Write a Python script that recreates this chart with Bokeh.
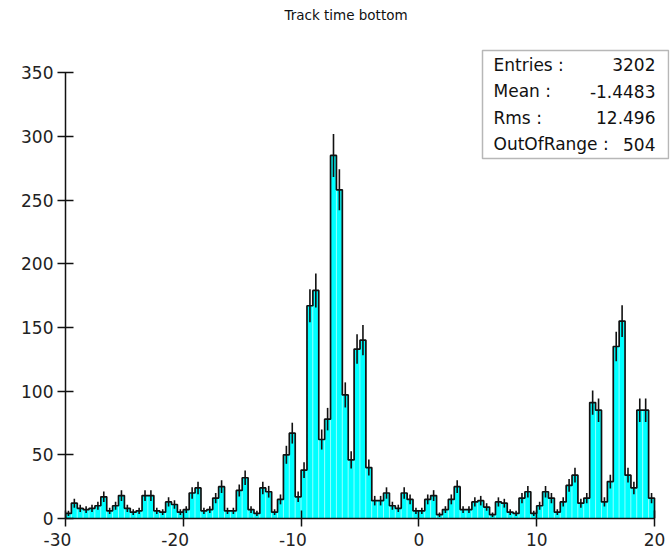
import numpy as np
from bokeh.plotting import figure
from bokeh.models import Label, BoxAnnotation, FixedTicker
from bokeh.embed import file_html
from bokeh.resources import INLINE

# ---------------- data ----------------
title_text = "Track time bottom"
x_min, x_max, bin_width = -30.0, 20.0, 0.5
counts = [
    4, 12, 8, 7, 8, 10, 17, 6, 10, 18,
    8, 5, 6, 18, 18, 6, 5, 13, 11, 5,
    7, 20, 24, 6, 7, 16, 25, 6, 6, 22,
    32, 7, 4, 24, 21, 5, 15, 50, 67, 17,
    38, 167, 179, 62, 78, 285, 258, 97, 46, 133,
    140, 40, 14, 14, 20, 10, 8, 20, 15, 6,
    6, 15, 18, 3, 7, 15, 25, 7, 7, 13,
    14, 9, 3, 13, 12, 5, 4, 16, 21, 4,
    10, 21, 16, 5, 13, 26, 34, 12, 16, 91,
    85, 13, 29, 135, 155, 34, 24, 85, 85, 16,
]
stat_labels = ["Entries :", "Mean :", "Rms :", "OutOfRange :"]
stat_values = ["3202", "-1.4483", "12.496", "504"]
x_ticks = [-30, -20, -10, 0, 10, 20]
y_ticks = [0, 50, 100, 150, 200, 250, 300, 350]

# ---------------- layout ----------------
W, H = 670, 552
BL, BR, BT, BB = 65, 1, 0, 34
px_per_x = 11.78
px_per_y = 1.274
frame_w = W - BL - BR
frame_h = H - BT - BB
x_end = x_min + frame_w / px_per_x
y_end = frame_h / px_per_y

def dx(px):
    return x_min + (px - BL) / px_per_x

def dy(py):
    return (BT + frame_h - py) / px_per_y

p = figure(width=W, height=H, x_range=(x_min, x_end), y_range=(0, y_end),
           output_backend="svg", toolbar_location=None,
           min_border_left=BL, min_border_right=BR,
           min_border_top=BT, min_border_bottom=BB)
p.title = None
p.outline_line_color = None
p.xgrid.visible = False
p.ygrid.visible = False
p.background_fill_color = "white"
p.border_fill_color = "white"

v = np.array(counts, dtype=float)
edges = x_min + bin_width * np.arange(len(v) + 1)
lefts, rights = edges[:-1], edges[1:]
centers = 0.5 * (lefts + rights)

# filled bins
p.quad(left=lefts, right=rights, bottom=0, top=v,
       fill_color="#00FFFF", line_color="#c8ffff", line_width=0.5)

# outline
sx = np.repeat(edges, 2)
sy = np.concatenate([[0.0], np.repeat(v, 2), [0.0]])
p.line(sx, sy, line_color="#111111", line_width=1.7)

# error bars
err = np.sqrt(v)
p.segment(x0=centers, y0=v - err, x1=centers, y1=v + err,
          line_color="#111111", line_width=1.6)

# axes
for ax in (p.xaxis[0], p.yaxis[0]):
    ax.axis_line_color = "#111111"
    ax.axis_line_width = 1.5
    ax.major_tick_line_color = "#111111"
    ax.major_tick_line_width = 1.5
    ax.major_tick_in = 8
    ax.major_tick_out = 8
    ax.minor_tick_line_color = None
    ax.major_label_text_font = "DejaVu Sans"
    ax.major_label_text_font_size = "17px"
    ax.major_label_text_color = "#222222"
p.xaxis.ticker = FixedTicker(ticks=x_ticks)
p.yaxis.ticker = FixedTicker(ticks=y_ticks)
p.xaxis.bounds = (x_min, x_max)
p.yaxis.bounds = (y_ticks[0], y_ticks[-1])
p.xaxis.major_label_standoff = 3
p.yaxis.major_label_standoff = 4
# negative labels sit a little to the left of their tick, as in the original
p.xaxis.major_label_overrides = {
    t: (str(t) + "\u00a0\u00a0\u00a0") if t < 0 else str(t) for t in x_ticks
}

# title
p.add_layout(Label(x=dx(345.5), y=dy(14.5), text=title_text,
                   text_font="DejaVu Sans", text_font_size="13.5px",
                   text_color="#111111", text_align="center",
                   text_baseline="middle"))

# statistics box
p.add_layout(BoxAnnotation(left=dx(482), right=dx(668), top=dy(50), bottom=dy(158),
                           fill_color="white", fill_alpha=1.0,
                           line_color="#111111", line_width=1.5))
row_y = [64, 90.5, 117, 143.5]
for lab, val, ry in zip(stat_labels, stat_values, row_y):
    p.add_layout(Label(x=dx(493), y=dy(ry), text=lab, text_font="DejaVu Sans",
                       text_font_size="17px", text_color="#111111",
                       text_align="left", text_baseline="middle"))
    p.add_layout(Label(x=dx(655), y=dy(ry), text=val, text_font="DejaVu Sans",
                       text_font_size="17px", text_color="#111111",
                       text_align="right", text_baseline="middle"))

open("out.html", "w").write(file_html(p, INLINE))
